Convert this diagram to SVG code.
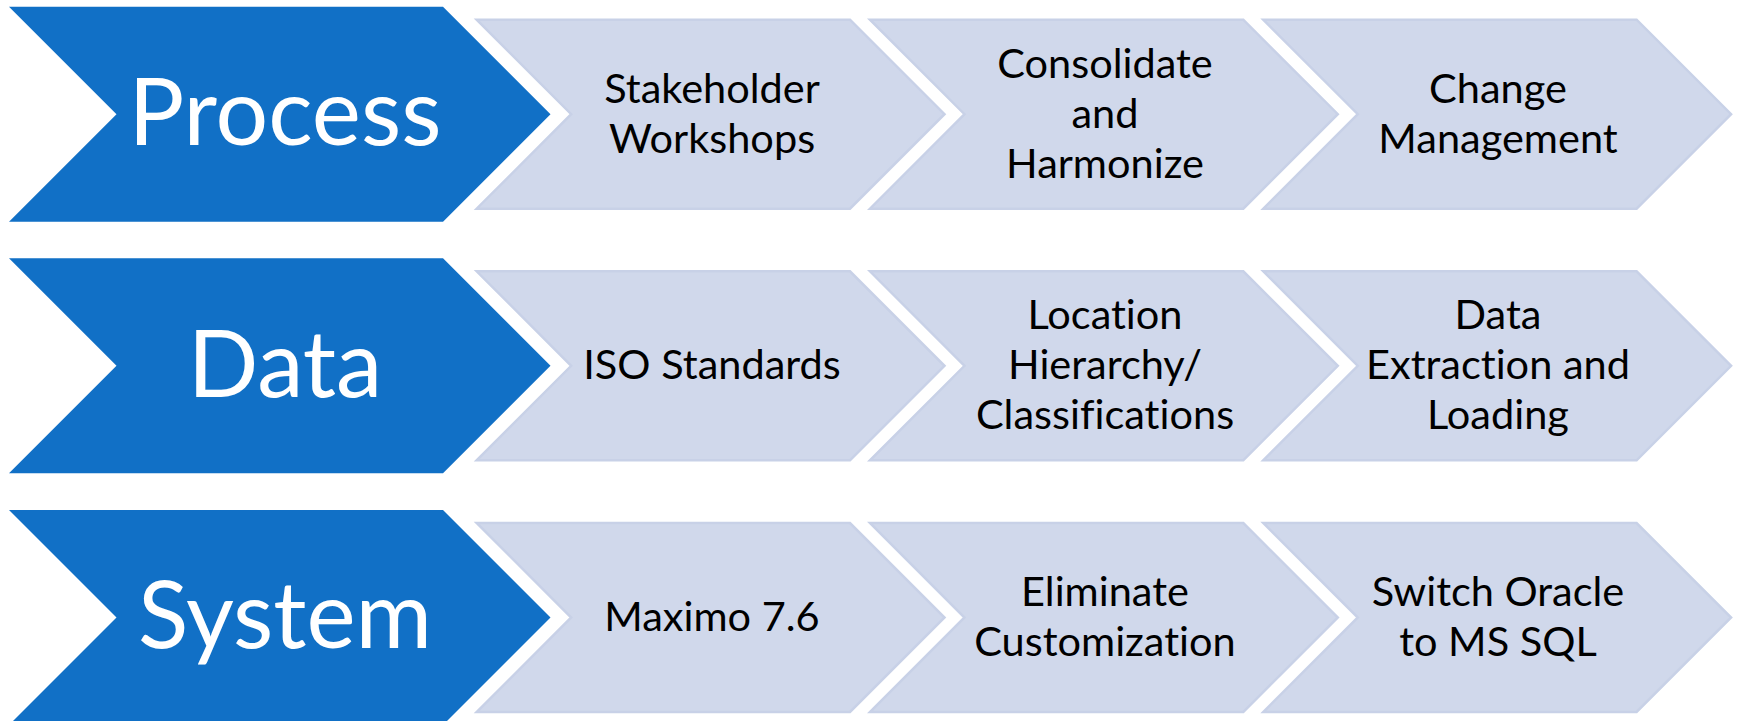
<svg xmlns="http://www.w3.org/2000/svg" width="1737" height="721" viewBox="0 0 1737 721">
<style>
.head{fill:#1170C6}
.step{fill:#D0D8EB;stroke:#C8D1E7;stroke-width:2.5;stroke-linejoin:miter}
.ht{font-family:Lato,"Open Sans","Liberation Sans",sans-serif;font-size:93px;fill:#FFFFFF;text-anchor:middle;font-variant-ligatures:none}
.st{font-family:Lato,"Open Sans","Liberation Sans",sans-serif;font-size:41.5px;fill:#000000;text-anchor:middle;font-variant-ligatures:none}
</style>
<rect width="1737" height="721" fill="#FFFFFF"/>
<g id="connectors"/>
<!-- Row 1 -->
<g id="process">
<polygon class="head" points="9,6.7 443,6.7 550.5,114.2 443,221.7 9,221.7 116.5,114.2"/>
<text class="ht" x="285" y="145">Process</text>
</g>
<g id="stakeholder-workshops">
<polygon class="step" points="476.7,19.7 850,19.7 944.5,114.2 850,208.7 476.7,208.7 571.2,114.2"/>
<text class="st" x="712" y="102.5">Stakeholder</text>
<text class="st" x="712" y="152.5">Workshops</text>
</g>
<g id="consolidate-harmonize">
<polygon class="step" points="870,19.7 1243.3,19.7 1337.8,114.2 1243.3,208.7 870,208.7 964.5,114.2"/>
<text class="st" x="1105" y="77.5">Consolidate</text>
<text class="st" x="1105" y="127.5">and</text>
<text class="st" x="1105" y="177.5">Harmonize</text>
</g>
<g id="change-management">
<polygon class="step" points="1263.3,19.7 1636.6,19.7 1731.1,114.2 1636.6,208.7 1263.3,208.7 1357.8,114.2"/>
<text class="st" x="1498" y="102.5">Change</text>
<text class="st" x="1498" y="152.5">Management</text>
</g>
<!-- Row 2 -->
<g id="data">
<polygon class="head" points="9,258.3 443,258.3 550.5,365.8 443,473.3 9,473.3 116.5,365.8"/>
<text class="ht" x="285" y="396.6">Data</text>
</g>
<g id="iso-standards">
<polygon class="step" points="476.7,271.3 850,271.3 944.5,365.8 850,460.3 476.7,460.3 571.2,365.8"/>
<text class="st" x="712" y="379.1">ISO Standards</text>
</g>
<g id="location-hierarchy">
<polygon class="step" points="870,271.3 1243.3,271.3 1337.8,365.8 1243.3,460.3 870,460.3 964.5,365.8"/>
<text class="st" x="1105" y="329.1">Location</text>
<text class="st" x="1105" y="379.1">Hierarchy/</text>
<text class="st" x="1105" y="429.1">Classifications</text>
</g>
<g id="data-extraction">
<polygon class="step" points="1263.3,271.3 1636.6,271.3 1731.1,365.8 1636.6,460.3 1263.3,460.3 1357.8,365.8"/>
<text class="st" x="1498" y="329.1">Data</text>
<text class="st" x="1498" y="379.1">Extraction and</text>
<text class="st" x="1498" y="429.1">Loading</text>
</g>
<!-- Row 3 -->
<g id="system">
<polygon class="head" points="9,510 443,510 550.5,617.5 443,725 9,725 116.5,617.5"/>
<text class="ht" x="285" y="648.3">System</text>
</g>
<g id="maximo">
<polygon class="step" points="476.7,523 850,523 944.5,617.5 850,712 476.7,712 571.2,617.5"/>
<text class="st" x="712" y="630.8">Maximo 7.6</text>
</g>
<g id="eliminate-customization">
<polygon class="step" points="870,523 1243.3,523 1337.8,617.5 1243.3,712 870,712 964.5,617.5"/>
<text class="st" x="1105" y="605.8">Eliminate</text>
<text class="st" x="1105" y="655.8">Customization</text>
</g>
<g id="switch-oracle">
<polygon class="step" points="1263.3,523 1636.6,523 1731.1,617.5 1636.6,712 1263.3,712 1357.8,617.5"/>
<text class="st" x="1498" y="605.8">Switch Oracle</text>
<text class="st" x="1498" y="655.8">to MS SQL</text>
</g>
</svg>
